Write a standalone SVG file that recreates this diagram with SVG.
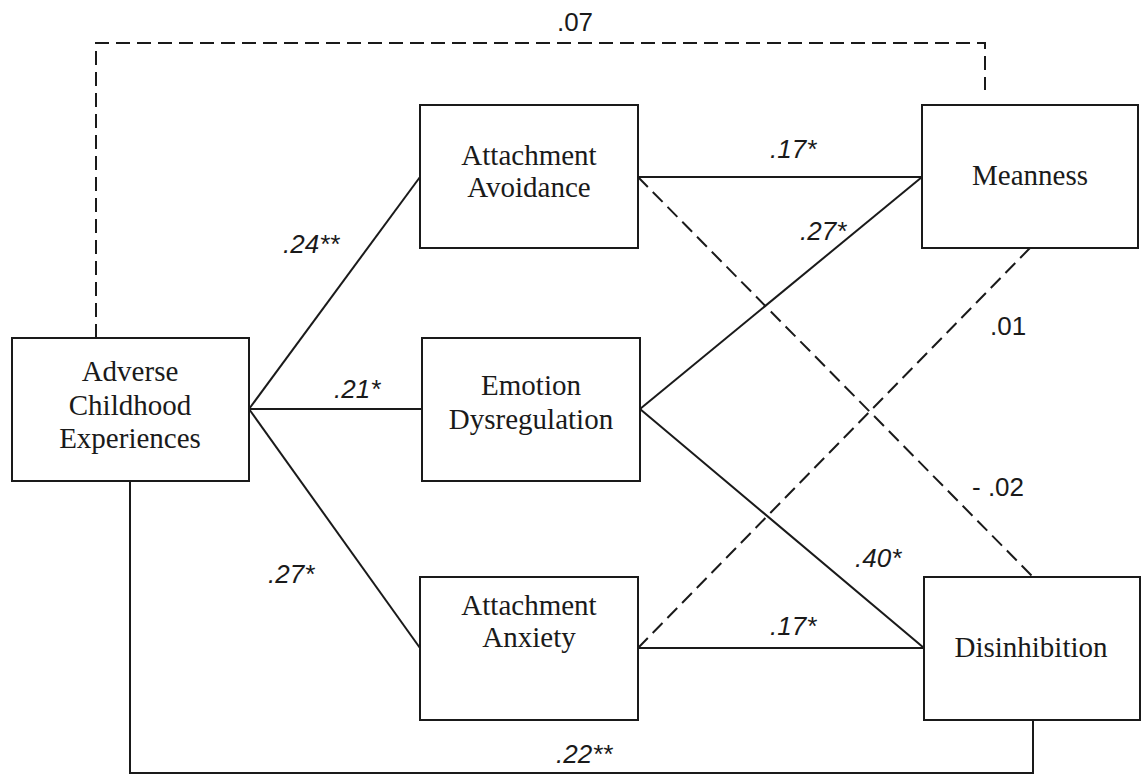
<svg xmlns="http://www.w3.org/2000/svg" width="1141" height="775" viewBox="0 0 1141 775">
<style>
.box{fill:#fff;stroke:#1a1a1a;stroke-width:2}
.node{font-family:"Liberation Serif","Times New Roman",serif;font-size:29px;fill:#1a1a1a;text-anchor:middle}
.ln{fill:none;stroke:#1a1a1a;stroke-width:2}
.dash{stroke-dasharray:14 7}
.lbl{font-family:"Liberation Sans",Arial,sans-serif;font-size:26px;fill:#1a1a1a}
.it{font-style:italic}
</style>
<rect width="1141" height="775" fill="#fff"/>
<g id="connectors">
<polyline class="ln dash" points="96,338 96,43 985,43 985,90"/>
<polyline class="ln" points="130,481 130,773 1033,773 1033,720"/>
<line class="ln" x1="249" y1="409" x2="420" y2="177"/>
<line class="ln" x1="249" y1="409" x2="422" y2="409"/>
<line class="ln" x1="249" y1="409" x2="420" y2="648"/>
<line class="ln" x1="638" y1="177" x2="922" y2="177"/>
<line class="ln dash" x1="638" y1="177" x2="1033" y2="577"/>
<line class="ln" x1="640" y1="409" x2="922" y2="177"/>
<line class="ln" x1="640" y1="409" x2="924" y2="648"/>
<line class="ln" x1="638" y1="648" x2="924" y2="648"/>
<line class="ln dash" x1="638" y1="648" x2="1030" y2="248"/>
</g>
<g id="labels">
<text class="lbl" x="575" y="31" text-anchor="middle">.07</text>
<text class="lbl it" x="283" y="253">.24**</text>
<text class="lbl it" x="334" y="398">.21*</text>
<text class="lbl it" x="268" y="583">.27*</text>
<text class="lbl it" x="770" y="158">.17*</text>
<text class="lbl it" x="800" y="240">.27*</text>
<text class="lbl" x="990" y="335">.01</text>
<text class="lbl" x="972" y="496">- .02</text>
<text class="lbl it" x="855" y="567">.40*</text>
<text class="lbl it" x="770" y="635">.17*</text>
<text class="lbl it" x="556" y="763">.22**</text>
</g>
<g id="ace">
<rect class="box" x="12" y="338" width="237" height="143"/>
<text class="node" x="130" y="381">Adverse</text>
<text class="node" x="130" y="415">Childhood</text>
<text class="node" x="130" y="448">Experiences</text>
</g>
<g id="avoidance">
<rect class="box" x="420" y="105" width="218" height="143"/>
<text class="node" x="529" y="165">Attachment</text>
<text class="node" x="529" y="197">Avoidance</text>
</g>
<g id="emotion">
<rect class="box" x="422" y="338" width="218" height="143"/>
<text class="node" x="531" y="395">Emotion</text>
<text class="node" x="531" y="429">Dysregulation</text>
</g>
<g id="anxiety">
<rect class="box" x="420" y="577" width="218" height="143"/>
<text class="node" x="529" y="615">Attachment</text>
<text class="node" x="529" y="647">Anxiety</text>
</g>
<g id="meanness">
<rect class="box" x="922" y="105" width="216" height="143"/>
<text class="node" x="1030" y="185">Meanness</text>
</g>
<g id="disinhibition">
<rect class="box" x="924" y="577" width="216" height="143"/>
<text class="node" x="1031" y="657">Disinhibition</text>
</g>
</svg>
